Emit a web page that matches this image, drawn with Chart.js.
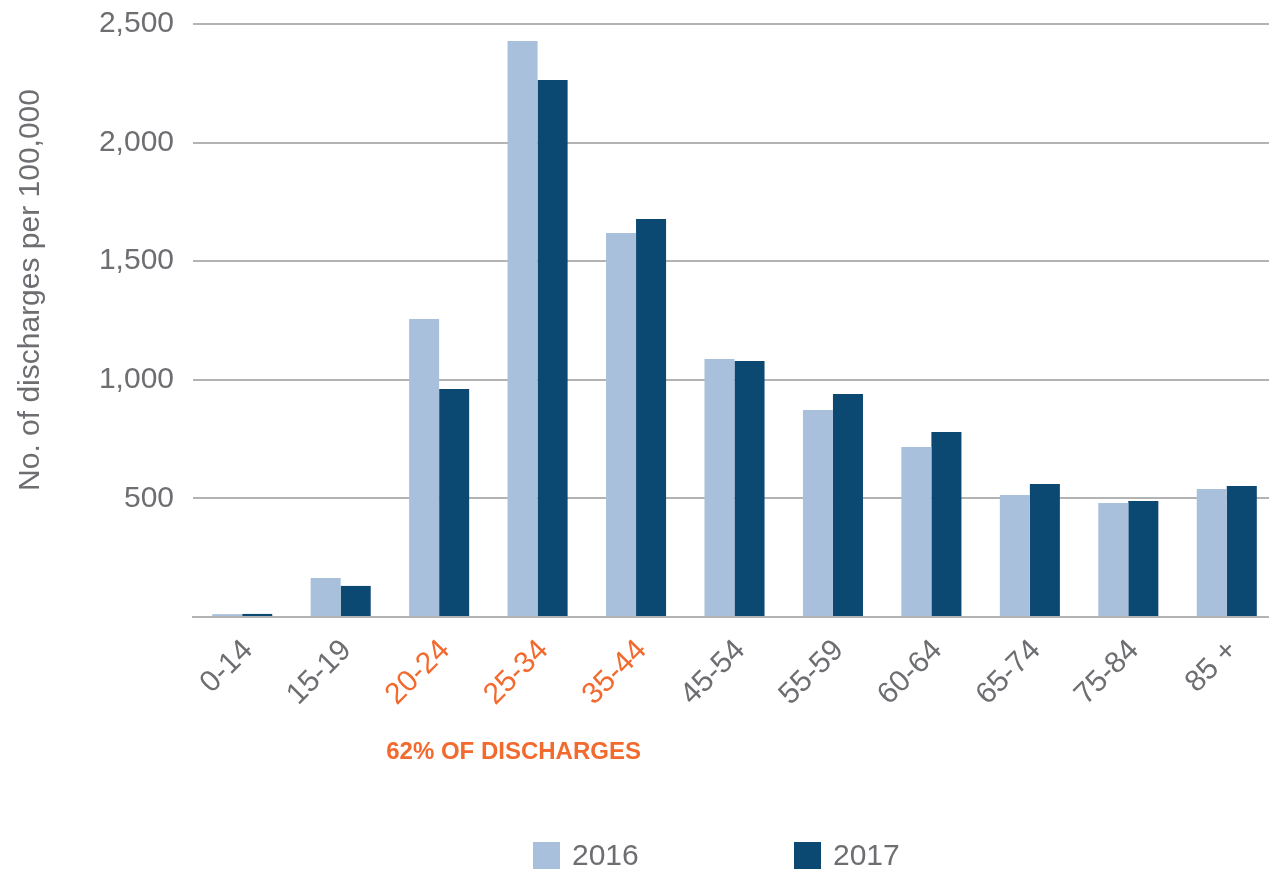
<!DOCTYPE html>
<html>
<head>
<meta charset="utf-8">
<script src="https://cdn.jsdelivr.net/npm/chart.js@4.4.1/dist/chart.umd.min.js"></script>
<style>
  html, body { margin: 0; padding: 0; background: #ffffff; overflow: hidden; }
  #wrap { width: 1280px; height: 869px; position: relative; }
</style>
</head>
<body>
<div id="wrap"><canvas id="chart"></canvas></div>
<script>
// age groups and rates per 100,000
const ageGroups = ['0-14', '15-19', '20-24', '25-34', '35-44', '45-54', '55-59', '60-64', '65-74', '75-84', '85 +'];
const rates2016 = [12, 164, 1256, 2428, 1619, 1088, 873, 717, 514, 481, 540];
const rates2017 = [13, 131, 961, 2264, 1678, 1079, 940, 780, 561, 489, 552];
const highlighted = ['20-24', '25-34', '35-44'];
const yTicks = [0, 500, 1000, 1500, 2000, 2500];

const GREY = '#6d6e71';
const ORANGE = '#f26a2e';
const LIGHT = '#a9c0dc';
const DARK = '#0b4872';
const FONT = '"Liberation Sans", Arial, sans-serif';

const extras = {
  id: 'extras',
  afterDraw(chart) {
    const ctx = chart.ctx;
    const x = chart.scales.x;
    ctx.save();

    // y axis title
    ctx.fillStyle = GREY;
    ctx.font = '30px ' + FONT;
    ctx.textAlign = 'center';
    ctx.textBaseline = 'middle';
    ctx.translate(31, 290);
    ctx.rotate(-Math.PI / 2);
    ctx.fillText('No. of discharges per 100,000', 0, 0);
    ctx.setTransform(1, 0, 0, 1, 0, 0);

    // note under the highlighted groups
    const first = ageGroups.indexOf(highlighted[0]);
    const last = ageGroups.indexOf(highlighted[highlighted.length - 1]);
    const mid = (x.getPixelForValue(first) + x.getPixelForValue(last)) / 2 - 24;
    ctx.fillStyle = ORANGE;
    ctx.font = 'bold 24px ' + FONT;
    ctx.textAlign = 'center';
    ctx.textBaseline = 'middle';
    ctx.fillText('62% OF DISCHARGES', mid, 752);

    // legend
    const lx = [533, 794];
    ctx.font = '30px ' + FONT;
    ctx.textAlign = 'left';
    chart.data.datasets.forEach((ds, i) => {
      ctx.fillStyle = ds.backgroundColor;
      ctx.fillRect(lx[i], 842, 27, 27);
      ctx.fillStyle = GREY;
      ctx.fillText(ds.label, lx[i] + 39, 857);
    });
    ctx.restore();
  }
};

new Chart(document.getElementById('chart'), {
  type: 'bar',
  data: {
    labels: ageGroups,
    datasets: [
      { label: '2016', data: rates2016, backgroundColor: LIGHT },
      { label: '2017', data: rates2017, backgroundColor: DARK }
    ]
  },
  options: {
    responsive: true,
    maintainAspectRatio: false,
    devicePixelRatio: 1,
    animation: false,
    layout: { padding: { top: 24, right: 4, left: 0, bottom: 0 } },
    datasets: { bar: { categoryPercentage: 0.61, barPercentage: 1 } },
    plugins: {
      legend: { display: false },
      tooltip: { enabled: false }
    },
    scales: {
      x: {
        grid: { display: false },
        border: { display: true, color: '#b3b3b3', width: 2 },
        afterFit(scale) { scale.height = 252; },
        ticks: {
          minRotation: 45,
          maxRotation: 45,
          padding: 8,
          labelOffset: 6,
          color: (c) => highlighted.includes(ageGroups[c.index]) ? ORANGE : GREY,
          font: { size: 30, family: FONT }
        }
      },
      y: {
        min: 0,
        max: 2500,
        afterFit(scale) {
          scale.width = 193;
          scale.paddingTop = 0;
          scale.paddingBottom = 0;
        },
        afterBuildTicks(scale) { scale.ticks = yTicks.map(v => ({ value: v })); },
        border: { display: false },
        grid: { color: '#b3b3b3', lineWidth: 2, drawTicks: false },
        ticks: {
          padding: 19,
          color: GREY,
          font: { size: 30, family: FONT },
          callback: (v) => v === 0 ? '' : v.toLocaleString('en-US')
        }
      }
    }
  },
  plugins: [extras]
});
</script>
</body>
</html>
